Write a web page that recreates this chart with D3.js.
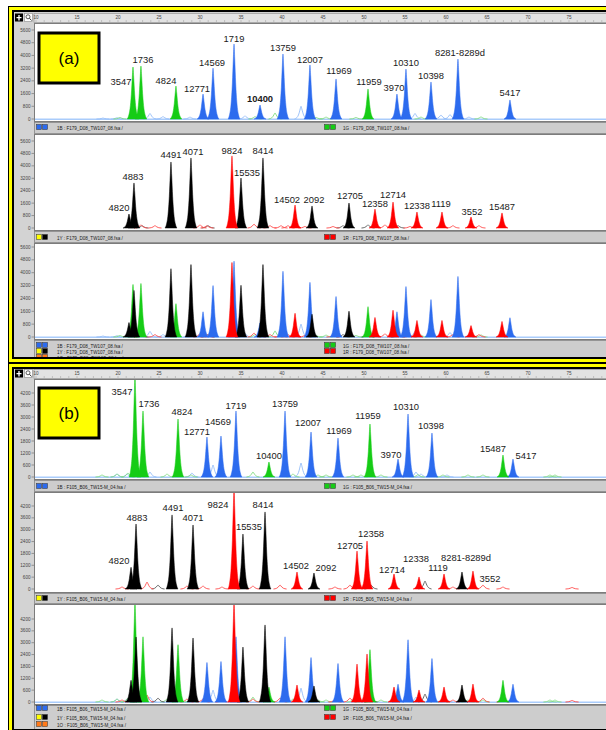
<!DOCTYPE html>
<html>
<head>
<meta charset="utf-8">
<script src="https://cdn.jsdelivr.net/npm/d3@7/dist/d3.min.js"></script>
<style>
  html,body{margin:0;padding:0;background:#fff;}
  svg{display:block;font-family:"Liberation Sans",Arial,sans-serif;}
</style>
</head>
<body>
<svg id="chart" width="606" height="730"></svg>
<script>
// ---------- axis ticks ----------
const rulerTicks = [10,15,20,25,30,35,40,45,50,55,60,65,70,75];
const yTicksA = [0,800,1600,2400,3200,4000,4800,5600];
const yTicksB = [0,600,1200,1800,2400,3000,3600,4200];

// ---------- sample (a): F179_D08_TW107_08 ----------
// called peaks: [allele label, size (ruler units), height (RFU)]
const aBlue = [
  ["12771",30.37,1570],["14569",31.59,3200],["1719",34.15,4720],["10400",37.32,880],
  ["13759",40.12,4090],["12007",43.41,3400],["11969",46.59,2520],["3970",54.02,1570],
  ["10310",55.12,3140],["10398",58.17,2330],["8281-8289d",61.46,3770],["5417",67.80,1200]
];
const aGreen = [
  ["3547",21.83,3270],["1736",22.80,3330],["4824",27.07,2075],["11959",50.49,1890]
];
const aBlack = [
  ["4820",21.34,900],["4883",21.95,2900],["4491",26.46,4250],["4071",28.90,4510],
  ["15535",35.00,3220],["8414",37.68,4510],["2092",43.66,1420],["12705",48.17,1610]
];
const aRed = [
  ["9824",33.90,4640],["14502",41.59,1480],["12358",51.34,1220],["12714",53.54,1670],
  ["12338",56.46,1030],["1119",59.51,1030],["3552",63.05,710],["15487",66.83,970]
];
// uncalled background bumps: [size, height]
const aBlueMinor = [[18.17,60],[19.88,80],[23.90,350],[25.49,150],[28.78,120],[35.49,200],
  [42.32,800],[56.22,350],[59.39,250],[60.49,280],[62.80,120]];
const aGreenMinor = [[20.24,100],[36.71,150],[39.15,380],[44.15,100],[45.37,120],[49.02,100],
  [56.95,120],[64.27,130]];
const aBlackMinor = [[22.93,150],[30.98,150],[47.44,150],[50.49,200],[54.15,150]];
const aRedMinor = [[22.80,200],[24.51,150],[30.00,200],[30.85,150],[36.59,250],[38.54,150],
  [39.88,150],[40.73,150],[42.80,100],[46.22,100],[52.56,200],[55.61,100],[60.85,150],[64.02,150]];

// ---------- sample (b): F105_B06_TW15-M_04 ----------
const bBlue = [
  ["12771",30.85,2000],["14569",32.56,2050],["1719",34.39,3300],["13759",40.37,3300],
  ["12007",43.54,2250],["11969",46.83,1950],["3970",54.15,900],["10310",55.37,3150],
  ["10398",58.29,2200],["5417",68.17,900]
];
const bGreen = [
  ["3547",22.07,5100],["1736",23.05,3300],["4824",27.32,2900],["10400",38.41,750],
  ["11959",50.73,2650],["15487",66.95,1100]
];
const bBlack = [
  ["4820",21.59,1100],["4883",22.20,3290],["4491",26.59,3750],["4071",29.15,3240],
  ["15535",35.24,2780],["8414",37.93,3900],["2092",43.90,810],["8281-8289d",61.95,860]
];
const bRed = [
  ["9824",34.15,5100],["14502",41.83,860],["12705",49.15,1920],["12358",50.37,2430],
  ["12714",53.66,760],["12338",56.71,610],["1119",59.76,760],["3552",63.29,910]
];
const bBlueMinor = [[19.88,150],[21.10,150],[23.90,250],[29.02,200],[31.59,600],[42.32,700],
  [56.34,250],[56.95,150],[60.12,100]];
const bGreenMinor = [[18.05,100],[19.88,150],[21.22,200],[25.98,150],[28.90,100],[36.46,250],
  [41.34,150],[44.39,100],[45.37,100],[48.66,100],[49.63,100],[52.07,100],[56.59,120],
  [59.63,100],[62.68,100],[64.51,100],[72.68,100],[73.29,100]];
const bBlackMinor = [[24.88,200],[50.85,200],[57.44,400]];
const bRedMinor = [[20.49,100],[23.54,350],[28.41,150],[30.37,150],[32.68,100],[36.46,150],
  [39.76,200],[46.46,100],[48.29,200],[60.85,100],[64.51,200],[66.95,100],[75.37,80]];

// ---------- label placement (px offsets from the peak apex) ----------
const aNudge = {
  "3547":[-12,18],"1736":[2,-3],"4824":[-10,-2],"12771":[-6,-2],"14569":[-1,-2],"1719":[0,-2],
  "10400":[0,-3],"13759":[0,-3],"12007":[0,-2],"11969":[3,-5],"11959":[1,-4],"3970":[-3,-3],
  "10310":[0,-3],"10398":[0,-3],"8281-8289d":[2,-3],"5417":[0,-4],
  "4820":[-10,-3],"4883":[-1,-3],"4491":[0,-4],"4071":[2,-3],"9824":[0,-2],"15535":[6,-2],
  "8414":[0,-4],"14502":[-8,-2],"2092":[2,-3],"12705":[1,-4],"12358":[0,-2],"12714":[0,-4],
  "12338":[0,-3],"1119":[-1,-5],"3552":[1,-2],"15487":[0,-3]
};
const bNudge = {
  "3547":[-13,20],"1736":[6,-4],"4824":[4,-4],"12771":[-10,-2],"14569":[-3,-11],"1719":[0,-2],
  "10400":[0,-3],"13759":[0,-4],"12007":[-3,-6],"11969":[1,-4],"11959":[-2,-5],"3970":[-7,-1],
  "10310":[-2,-4],"10398":[-1,-4],"15487":[-10,-3],"5417":[13,0],
  "4820":[-12,-3],"4883":[1,-3],"4491":[1,-4],"4071":[0,-4],"9824":[-16,20],"15535":[6,-4],
  "8414":[-2,-4],"14502":[-1,-3],"2092":[12,-2],"12705":[-7,-2],"12358":[4,-4],"12714":[-2,-1],
  "12338":[-3,-15],"1119":[-6,-3],"8281-8289d":[4,-11],"3552":[17,11]
};

// ---------- styling ----------
const fillColor  = {B:"#2c6bee", G:"#16cc16", Y:"#000000", R:"#ff0000"};
const minorColor = {B:"#93bcf8", G:"#80dc80", Y:"#5a5a5a", R:"#ff4a4a"};
const legendSwatch = {B:["#2c6bee","#2c6bee"], G:["#16cc16","#16cc16"], Y:["#ffff00","#000"],
  R:["#ff0000","#ff0000"], O:["#ff7a1a","#ff7a1a"]};
// normalised peak outline: [offset in half-widths, fraction of height]
const peakProfile = [[-1,0],[-0.75,0.06],[-0.5,0.2],[-0.28,0.48],[-0.12,0.8],[0,1],
  [0.12,0.8],[0.28,0.48],[0.5,0.2],[0.75,0.06],[1,0]];
const PANEL_GRAY = "#d3d3d3";

const svg = d3.select("#chart");
const x = d3.scaleLinear().domain([10,80]).range([36,610]);
let clipId = 0;

function frame(x0,y0,x1,y1){
  const g = svg.append("g");
  g.append("rect").attr("x",x0).attr("y",y0).attr("width",x1-x0).attr("height",y1-y0).attr("fill","#000");
  g.append("rect").attr("x",x0+1).attr("y",y0+1).attr("width",x1-x0-2).attr("height",y1-y0-2).attr("fill","#ffff00");
  g.append("rect").attr("x",x0+4).attr("y",y0+4).attr("width",x1-x0-8).attr("height",y1-y0-8).attr("fill","#000");
  g.append("rect").attr("x",x0+6).attr("y",y0+6).attr("width",x1-x0-12).attr("height",y1-y0-12).attr("fill",PANEL_GRAY);
}

function ruler(g, top){
  // toolbar buttons
  g.append("rect").attr("x",15).attr("y",top+0.5).attr("width",8).attr("height",8).attr("fill","#000");
  g.append("path").attr("d",`M19,${top+2}V${top+7.5}M16.5,${top+4.7}H21.5`).attr("stroke","#fff").attr("stroke-width",1.3);
  g.append("rect").attr("x",24.5).attr("y",top+0.5).attr("width",8).attr("height",8).attr("fill","#fff").attr("stroke","#888").attr("stroke-width",0.6);
  g.append("circle").attr("cx",28).attr("cy",top+3.8).attr("r",2).attr("fill","none").attr("stroke","#333").attr("stroke-width",0.8);
  g.append("path").attr("d",`M29.5,${top+5.3}L31.5,${top+7.5}`).attr("stroke","#333").attr("stroke-width",1);
  // ruler strip
  g.append("rect").attr("x",34).attr("y",top+0.5).attr("width",600).attr("height",9).attr("fill","#e2e2e2").attr("stroke","#8a8a8a").attr("stroke-width",0.6);
  const minor = d3.range(10,80,1);
  g.selectAll(null).data(minor).enter().append("line")
    .attr("x1",d=>x(d)).attr("x2",d=>x(d)).attr("y1",top+7).attr("y2",top+9)
    .attr("stroke","#9a9a9a").attr("stroke-width",0.5);
  g.selectAll(null).data(rulerTicks).enter().append("text")
    .attr("x",d=>x(d)).attr("y",top+5.6).attr("text-anchor","middle")
    .attr("font-size",4.6).attr("fill","#444").text(d=>d);
}

function subplot(g, L, tickVals, layers, labelled, nudge, bold){
  const y = d3.scaleLinear().domain([0,tickVals[tickVals.length-1]]).range([L.zero,L.max]);
  g.append("rect").attr("x",34.5).attr("y",L.top+0.5).attr("width",600).attr("height",L.bottom-L.top-1)
    .attr("fill","#fff").attr("stroke","#7c7c7c").attr("stroke-width",1);
  // y axis
  g.selectAll(null).data(tickVals).enter().append("text")
    .attr("x",30.5).attr("y",d=>y(d)+1.6).attr("text-anchor","end")
    .attr("font-size",4.6).attr("fill","#444").text(d=>d);
  g.selectAll(null).data(tickVals).enter().append("line")
    .attr("x1",31.5).attr("x2",34).attr("y1",d=>y(d)).attr("y2",d=>y(d))
    .attr("stroke","#666").attr("stroke-width",0.6);

  const id = "clip"+(clipId++);
  g.append("clipPath").attr("id",id).append("rect")
    .attr("x",35).attr("y",L.top+1).attr("width",600).attr("height",L.bottom-L.top-2);
  const body = g.append("g").attr("clip-path",`url(#${id})`);

  const area = d3.area().curve(d3.curveMonotoneX).x(d=>x(d[0])).y0(y(0)).y1(d=>y(d[1]));
  const line = d3.line().curve(d3.curveMonotoneX).x(d=>x(d[0])).y(d=>y(d[1]));
  const shape = (pos,h,hw) => peakProfile.map(([t,f]) => [pos+t*hw, h*f]);

  // trace baselines
  if (layers.some(l=>l.ch==="B")) {
    body.append("line").attr("x1",35).attr("x2",634).attr("y1",y(0)+0.3).attr("y2",y(0)+0.3)
      .attr("stroke","#a9ccfb").attr("stroke-width",1.4);
  }
  // background bumps (outlines)
  layers.forEach(l => {
    body.selectAll(null).data(l.minor).enter().append("path")
      .attr("d",d=>line(shape(d[0],d[1],0.8)))
      .attr("fill","none").attr("stroke",minorColor[l.ch]).attr("stroke-width",0.9);
  });
  // called peaks
  layers.forEach(l => {
    body.selectAll(null).data(l.peaks).enter().append("path")
      .attr("d",d=>area(shape(d[1],d[2],0.72)))
      .attr("fill",fillColor[l.ch]).attr("stroke",fillColor[l.ch]).attr("stroke-width",0.5);
  });
  if (labelled) {
    layers.forEach(l => {
      g.selectAll(null).data(l.peaks).enter().append("text")
        .attr("x",d=>x(d[1])+(nudge[d[0]]||[0,-3])[0])
        .attr("y",d=>y(d[2])+(nudge[d[0]]||[0,-3])[1])
        .attr("text-anchor","middle").attr("font-size",9.4)
        .attr("font-weight",d=>bold.includes(d[0])?"bold":"normal")
        .attr("fill","#1a1a1a").text(d=>d[0]);
    });
  }
}

function strip(g, top, bottom){
  g.append("rect").attr("x",34.5).attr("y",top+0.5).attr("width",600).attr("height",bottom-top-1)
    .attr("fill","#cdcdcd").attr("stroke","#858585").attr("stroke-width",0.8);
}

function legendRow(g, xs, xt, yText, code, file){
  const sw = legendSwatch[code];
  sw.forEach((c,i) => {
    g.append("rect").attr("x",xs+i*6+0.5).attr("y",yText-3.5).attr("width",5).attr("height",5)
      .attr("fill",c).attr("stroke","#333").attr("stroke-width",0.5);
  });
  g.append("text").attr("x",xt).attr("y",yText+1.5).attr("font-size",4.6).attr("fill","#222")
    .text(`1${code} : ${file} /`);
}

function panel(P){
  frame(...P.outer);
  const g = svg.append("g");
  ruler(g, P.rulerTop);
  const [s1,s2,s3] = P.subs;
  subplot(g, s1, P.ticks, [{ch:"B",peaks:P.B,minor:P.Bm},{ch:"G",peaks:P.G,minor:P.Gm}], true, P.nudge, P.bold);
  subplot(g, s2, P.ticks, [{ch:"Y",peaks:P.Y,minor:P.Ym},{ch:"R",peaks:P.R,minor:P.Rm}], true, P.nudge, P.bold);
  subplot(g, s3, P.ticks, [{ch:"B",peaks:P.B,minor:P.Bm},{ch:"G",peaks:P.G,minor:P.Gm},
    {ch:"Y",peaks:P.Y,minor:P.Ym},{ch:"R",peaks:P.R,minor:P.Rm}], false, P.nudge, P.bold);
  strip(g, s1.bottom, s2.top);
  strip(g, s2.bottom, s3.top);
  strip(g, s3.bottom, P.legendBottom);
  legendRow(g, 36, 57, P.strip1, "B", P.file); legendRow(g, 324, 343, P.strip1, "G", P.file);
  legendRow(g, 36, 57, P.strip2, "Y", P.file); legendRow(g, 324, 343, P.strip2, "R", P.file);
  legendRow(g, 36, 57, P.rows[0], "B", P.file); legendRow(g, 324, 343, P.rows[0], "G", P.file);
  legendRow(g, 36, 57, P.rows[1], "Y", P.file); legendRow(g, 324, 343, P.rows[1], "R", P.file);
  legendRow(g, 36, 57, P.rows[2], "O", P.file);
  // inner edge of the frame drawn over anything that runs into it
  const [x0,y0,x1,y1] = P.outer;
  svg.append("path").attr("fill-rule","evenodd").attr("fill","#000")
    .attr("d",`M${x0},${y0}H${x1}V${y1}H${x0}Z M${x0+6},${y0+6}H${x1-6}V${y1-6}H${x0+6}Z`);
  svg.append("path").attr("fill-rule","evenodd").attr("fill","#ffff00")
    .attr("d",`M${x0+1},${y0+1}H${x1-1}V${y1-1}H${x0+1}Z M${x0+4},${y0+4}H${x1-4}V${y1-4}H${x0+4}Z`);
  // sample tag
  const t = svg.append("g");
  t.append("rect").attr("x",P.tag[0]).attr("y",P.tag[1]).attr("width",P.tag[2]).attr("height",P.tag[3])
    .attr("fill","#ffff00").attr("stroke","#000").attr("stroke-width",3);
  t.append("text").attr("x",P.tag[0]+P.tag[2]/2).attr("y",P.tag[1]+P.tag[3]/2+6)
    .attr("text-anchor","middle").attr("font-size",17).attr("fill","#000").text(P.tagText);
}

panel({
  outer:[8,6,640,363], rulerTop:13, ticks:yTicksA, file:"F179_D08_TW107_08.fsa",
  subs:[{top:23,bottom:122,zero:119,max:30},{top:134,bottom:231,zero:228,max:141},{top:243,bottom:340,zero:337,max:247}],
  legendBottom:362, strip1:128, strip2:238, rows:[346,352,358],
  B:aBlue, G:aGreen, Y:aBlack, R:aRed, Bm:aBlueMinor, Gm:aGreenMinor, Ym:aBlackMinor, Rm:aRedMinor,
  nudge:aNudge, bold:["10400"], tag:[39,33,60,50], tagText:"(a)"
});
panel({
  outer:[8,363,640,735], rulerTop:369, ticks:yTicksB, file:"F105_B06_TW15-M_04.fsa",
  subs:[{top:379,bottom:480,zero:477,max:393},{top:492,bottom:593,zero:589,max:506},{top:604,bottom:705,zero:702,max:619}],
  legendBottom:735, strip1:487, strip2:599, rows:[709,718,725],
  B:bBlue, G:bGreen, Y:bBlack, R:bRed, Bm:bBlueMinor, Gm:bGreenMinor, Ym:bBlackMinor, Rm:bRedMinor,
  nudge:bNudge, bold:[], tag:[39,388,60,50], tagText:"(b)"
});
</script>
</body>
</html>
